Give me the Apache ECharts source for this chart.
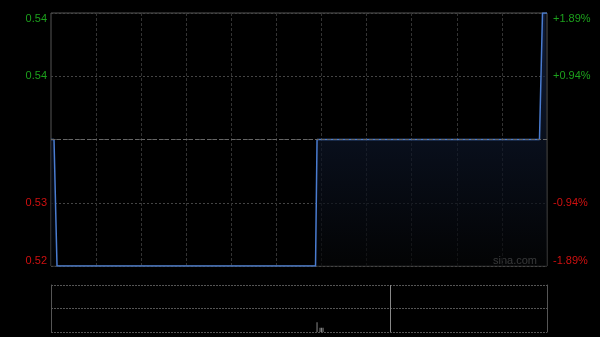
<!DOCTYPE html>
<html><head><meta charset="utf-8">
<script src="https://cdn.jsdelivr.net/npm/echarts@6/dist/echarts.min.js"></script>
<style>html,body{margin:0;padding:0;background:#000;}#c{width:600px;height:337px;}</style>
</head><body><div id="c"></div>
<script>
// ---- data ----
var prevClose = 0.53;
var priceMin = 0.52, priceMax = 0.54, priceStep = 0.005;
// price runs: [price, number of minutes]
var priceRuns = [[0.53, 4], [0.52, 173], [0.53, 150], [0.54, 4]];
var leftTickLabels = ['0.52', '0.53', '', '0.54', '0.54'];
var rightTickLabels = ['-1.89%', '-0.94%', '', '+0.94%', '+1.89%'];
var tickColors = ['#d01010', '#d01010', '', '#1ca01c', '#1ca01c'];
// volume: [minute index, volume]
var volumePoints = [[177, 21], [179, 9], [180, 9], [181, 9]];
var volumeMarkIndex = 226;
var gridEvery = 30;

// ---- build ----
var times = [];
(function(){
  function fmt(m){var h=Math.floor(m/60),mm=m%60;return (h<10?'0':'')+h+':'+(mm<10?'0':'')+mm;}
  for (var m=570;m<=720;m++) times.push(fmt(m));
  for (var m2=781;m2<=960;m2++) times.push(fmt(m2));
})();
var prices = [];
priceRuns.forEach(function(r){ for (var k=0;k<r[1];k++) prices.push(r[0]); });
var volumes = times.map(function(){ return 0; });
volumePoints.forEach(function(p){ volumes[p[0]] = p[1]; });

var chart = echarts.init(document.getElementById('c'), null, {renderer:'canvas'});
function tickIndex(v){ return Math.round((v - priceMin) / priceStep); }
var labelFont = {fontSize: 11, fontFamily: 'Liberation Sans, Arial, sans-serif'};
var gridSplit = function(i){ return i % gridEvery === 0 && i !== 0 && i !== times.length-1; };

chart.setOption({
  backgroundColor: '#000',
  animation: false,
  grid: [
    {left: 51, right: 53, top: 13, height: 253, show: true, borderColor: '#555', borderWidth: 1, backgroundColor: 'transparent'},
    {left: 51, right: 53, top: 285, height: 47, show: false}
  ],
  xAxis: [
    {type: 'category', gridIndex: 0, data: times, boundaryGap: false,
     axisLine: {show: false}, axisTick: {show: false}, axisLabel: {show: false},
     splitLine: {show: true, interval: gridSplit, lineStyle: {color: '#333', type: [3, 2], width: 1}}},
    {type: 'category', gridIndex: 1, data: times, boundaryGap: false,
     axisLine: {show: false}, axisTick: {show: false}, axisLabel: {show: false},
     splitLine: {show: false}}
  ],
  yAxis: [
    {type: 'value', gridIndex: 0, min: priceMin, max: priceMax, interval: priceStep, position: 'left',
     axisLine: {show: false}, axisTick: {show: false},
     axisLabel: Object.assign({margin: 4, verticalAlignMinLabel: 'bottom', verticalAlignMaxLabel: 'top',
       formatter: function(v){ return leftTickLabels[tickIndex(v)]; },
       color: function(v){ return tickColors[tickIndex(v)]; }}, labelFont),
     splitLine: {show: true, lineStyle: {color: '#444', type: [2, 2], width: 1}}},
    {type: 'value', gridIndex: 0, min: priceMin, max: priceMax, interval: priceStep, position: 'right',
     axisLine: {show: false}, axisTick: {show: false},
     axisLabel: Object.assign({margin: 6, verticalAlignMinLabel: 'bottom', verticalAlignMaxLabel: 'top',
       formatter: function(v){ return rightTickLabels[tickIndex(v)]; },
       color: function(v){ return tickColors[tickIndex(v)]; }}, labelFont),
     splitLine: {show: false}},
    {type: 'value', gridIndex: 1, min: 0, max: 100, interval: 50, position: 'left',
     axisLine: {show: true, lineStyle: {color: '#555'}}, axisTick: {show: false}, axisLabel: {show: false},
     splitLine: {show: true, lineStyle: {color: '#555', type: [2, 1], width: 1}}},
    {type: 'value', gridIndex: 1, min: 0, max: 100, interval: 50, position: 'right',
     axisLine: {show: true, lineStyle: {color: '#555'}}, axisTick: {show: false}, axisLabel: {show: false},
     splitLine: {show: false}}
  ],
  series: [
    {type: 'line', xAxisIndex: 0, yAxisIndex: 0, data: prices, showSymbol: false, symbol: 'none',
     lineStyle: {color: '#4a7cd0', width: 1.5},
     areaStyle: {origin: 'start', color: {type: 'linear', x: 0, y: 13, x2: 0, y2: 266, global: true,
       colorStops: [{offset: 0, color: '#16264a'}, {offset: 1, color: '#040506'}]}},
     markLine: {silent: true, symbol: 'none', label: {show: false},
       lineStyle: {color: '#666', type: [4, 2], width: 1},
       data: [{yAxis: prevClose}]},
     z: 3},
    {type: 'bar', xAxisIndex: 1, yAxisIndex: 2, data: volumes, barWidth: 1,
     itemStyle: {color: '#888'},
     markLine: {silent: true, symbol: 'none', label: {show: false},
       lineStyle: {color: '#888', type: 'solid', width: 1},
       data: [{xAxis: volumeMarkIndex}]}}
  ],
  graphic: [
    {type: 'text', right: 63, top: 255, style: {text: 'sina.com', fill: '#aaa', font: '11px Liberation Sans, Arial, sans-serif'}}
  ]
});
</script></body></html>
